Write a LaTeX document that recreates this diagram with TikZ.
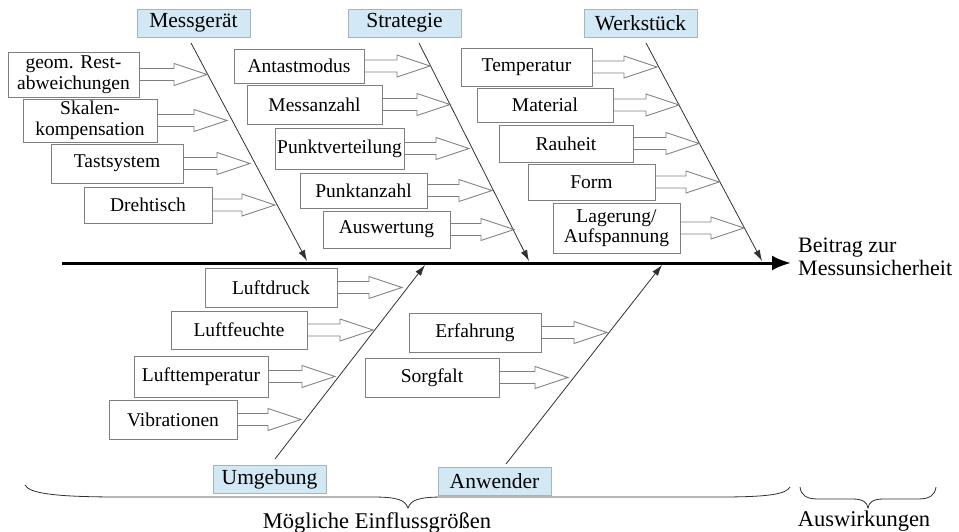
\documentclass[tikz,border=0pt]{standalone}
\usepackage{fontspec}
\setmainfont{Liberation Serif}
\usetikzlibrary{arrows.meta,calc}
\definecolor{hdrfill}{HTML}{D2E8F5}
\definecolor{hdrline}{HTML}{A6B4BE}
\definecolor{boxline}{HTML}{7F7F7F}
\definecolor{boneline}{HTML}{303030}

% one influence box with its hollow block arrow pointing at the bone
% #1 name, #2/#3 centre, #4/#5 width/height, #6 text, #7 x of arrow tip
\newcommand\causebox[7]{%
  \node[cause, minimum width=#4, minimum height=#5] (#1) at (#2,#3) {#6};
  \coordinate (#1tip) at (#7,#3);
  \draw[causearr] let \p1=(#1.east), \p2=(#1tip) in
    (\x1,\y1+6pt) -- (\x2-33pt,\y1+6pt) -- (\x2-33pt,\y1+11pt) -- (\p2)
    -- (\x2-33pt,\y1-11pt) -- (\x2-33pt,\y1-6pt) -- (\x1,\y1-6pt);
}

\begin{document}
\begin{tikzpicture}[x=1pt,y=-1pt,
  header/.style={draw=hdrline, fill=hdrfill, line width=0.9pt, inner sep=0pt,
    minimum width=113pt, minimum height=28pt, font=\fontsize{21.5}{24}\selectfont},
  cause/.style={draw=boxline, fill=white, line width=0.9pt, inner sep=0pt,
    align=center, font=\fontsize{19.5}{20.5}\selectfont},
  causearr/.style={draw=boxline, line width=0.9pt, line join=miter},
  bone/.style={draw=boneline, line width=0.8pt, -{Latex[length=11pt,width=7pt]}},
  spine/.style={draw=black, line width=3pt, -{Latex[length=19pt,width=15pt]}},
  bracepath/.style={draw=boneline, line width=0.8pt},
  lbl/.style={font=\fontsize{22}{23.5}\selectfont, inner sep=0pt}]

\useasboundingbox (0,0) rectangle (959,532);

% main spine
\coordinate (sp0) at (62,263);
\coordinate (sp1) at (791,263);
\draw[spine] (sp0) -- (sp1);

% category headers
\node[header] (mg) at (193.5,23) {Messgerät};
\node[header] (st) at (404.5,23) {Strategie};
\node[header] (ws) at (640.5,23) {Werkstück};
\node[header] (um) at (269.5,479) {Umgebung};
\node[header] (an) at (494.5,481.5) {Anwender};

% bones
\coordinate (mgS) at (191,43);  \coordinate (mgE) at (307,261);
\coordinate (stS) at (419,43);  \coordinate (stE) at (529,261);
\coordinate (wsS) at (646,43);  \coordinate (wsE) at (762,261);
\coordinate (umS) at (275,459); \coordinate (umE) at (425,265);
\coordinate (anS) at (506,464); \coordinate (anE) at (662,265);
\draw[bone] (mgS) -- (mgE);
\draw[bone] (stS) -- (stE);
\draw[bone] (wsS) -- (wsE);
\draw[bone] (umS) -- (umE);
\draw[bone] (anS) -- (anE);

% Messgerät
\causebox{g1}{73.5}{74.5}{131}{45}{geom. Rest-\\abweichungen}{207}
\causebox{g2}{90}{120.5}{134}{43}{Skalen-\\kompensation}{227}
\causebox{g3}{117}{163.5}{132}{39}{Tastsystem}{250}
\causebox{g4}{148}{205}{128}{36}{Drehtisch}{275}

% Strategie
\causebox{s1}{299}{66}{130}{34}{Antastmodus}{430}
\causebox{s2}{314.5}{104.5}{135}{39}{Messanzahl}{450}
\causebox{s3}{339.5}{148.5}{129}{41}{Punktverteilung}{469}
\causebox{s4}{363.5}{190.5}{127}{35}{Punktanzahl}{492}
\causebox{s5}{386.5}{229.5}{127}{37}{Auswertung}{514}

% Werkstück
\causebox{w1}{526.5}{67}{131}{38}{Temperatur}{657}
\causebox{w2}{545}{105}{136}{34}{Material}{679}
\causebox{w3}{566}{143.5}{134}{37}{Rauheit}{699}
\causebox{w4}{591.5}{182}{127}{36}{Form}{719}
\causebox{w5}{616.5}{228}{127}{50}{Lagerung/\\Aufspannung}{744}

% Umgebung
\causebox{u1}{271}{287.5}{132}{39}{Luftdruck}{402}
\causebox{u2}{239}{330}{136}{38}{Luftfeuchte}{373}
\causebox{u3}{201}{376.5}{134}{41}{Lufttemperatur}{335}
\causebox{u4}{173}{419.5}{128}{39}{Vibrationen}{301}

% Anwender
\causebox{a1}{475}{332.5}{132}{39}{Erfahrung}{607}
\causebox{a2}{432}{377.5}{134}{39}{Sorgfalt}{568}

% effect label
\node[lbl, anchor=west, align=left] (result) at (798,257) {Beitrag zur\\Messunsicherheit};

% braces and their captions
\draw[bracepath] (25,485) .. controls (29,494) and (60,497) .. (120,497)
  -- (372,497) .. controls (398,497) and (405,500) .. (408,508)
  .. controls (411,500) and (418,497) .. (444,497)
  -- (720,497) .. controls (770,497) and (786,494) .. (790,487);
\draw[bracepath] (800,487) .. controls (801,495) and (806,499) .. (818,499)
  -- (852,499) .. controls (863,499) and (867,502) .. (868,508)
  .. controls (869,502) and (873,499) .. (884,499)
  -- (918,499) .. controls (930,499) and (935,495) .. (936,487);
\node[lbl, anchor=base, font=\fontsize{22.5}{24}\selectfont] (infl) at (377,528) {Mögliche Einflussgrößen};
\node[lbl, anchor=base, font=\fontsize{22.5}{24}\selectfont] (eff) at (864,526) {Auswirkungen};
\end{tikzpicture}
\end{document}
